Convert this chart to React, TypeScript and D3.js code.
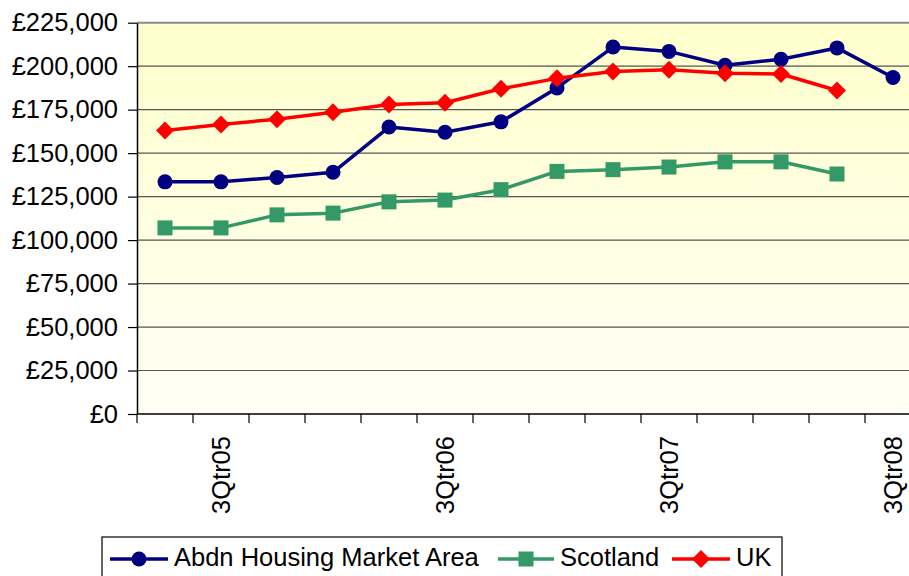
import React, { useEffect, useRef } from 'react';
import * as d3 from 'd3';

const quarters = [
  '2Qtr05', '3Qtr05', '4Qtr05', '1Qtr06', '2Qtr06', '3Qtr06', '4Qtr06',
  '1Qtr07', '2Qtr07', '3Qtr07', '4Qtr07', '1Qtr08', '2Qtr08', '3Qtr08',
];
const shownLabels = ['3Qtr05', '3Qtr06', '3Qtr07', '3Qtr08'];
const yTicks = [0, 25000, 50000, 75000, 100000, 125000, 150000, 175000, 200000, 225000];

const abdn = [133500, 133500, 136000, 139000, 165000, 162000, 168000, 187500, 211000, 208500, 200500, 204000, 210500, 193500];
const scotland = [107000, 107000, 114500, 115500, 122000, 123000, 129000, 139500, 140500, 142000, 145000, 145000, 138000];
const uk = [163000, 166500, 169500, 173500, 178000, 179000, 187000, 193000, 197000, 198000, 196000, 195500, 186000];

const seriesNames = ['Abdn Housing Market Area', 'Scotland', 'UK'];

const FONT = '"Liberation Sans", Arial, sans-serif';
const FS = 25.5;

const App = () => {
  const ref = useRef<SVGSVGElement>(null);

  useEffect(() => {
    const svg = d3.select(ref.current);
    svg.selectAll('*').remove();

    const left = 137;
    const top = 22.7;
    const bottom = 414;
    const right = left + 56 * quarters.length;

    const x = d3.scaleBand().domain(quarters).range([left, right]);
    const y = d3.scaleLinear().domain([0, 225000]).range([bottom, top]);

    const defs = svg.append('defs');
    const grad = defs.append('linearGradient')
      .attr('id', 'bg')
      .attr('x1', 0).attr('y1', 0).attr('x2', 0).attr('y2', 1);
    grad.append('stop').attr('offset', '0%').attr('stop-color', '#ffffcc');
    grad.append('stop').attr('offset', '100%').attr('stop-color', '#fffff6');

    svg.append('rect')
      .attr('x', left).attr('y', top)
      .attr('width', right - left).attr('height', bottom - top)
      .attr('fill', 'url(#bg)');

    // gridlines
    svg.append('g')
      .selectAll('line')
      .data(yTicks.filter(t => t > 0 && t < 225000))
      .enter().append('line')
      .attr('x1', left).attr('x2', right)
      .attr('y1', d => y(d)).attr('y2', d => y(d))
      .attr('stroke', '#555')
      .attr('stroke-width', 1.2);

    svg.append('line')
      .attr('x1', left).attr('x2', right)
      .attr('y1', top).attr('y2', top)
      .attr('stroke', '#8a8a8a')
      .attr('stroke-width', 2);

    // y axis
    const yAxis = d3.axisLeft(y)
      .tickValues(yTicks)
      .tickSize(9)
      .tickSizeOuter(0)
      .tickPadding(10)
      .tickFormat(d => '£' + d3.format(',')(d as number));
    const gy = svg.append('g')
      .attr('transform', `translate(${left},0)`)
      .call(yAxis);
    gy.select('.domain').attr('stroke', '#000').attr('stroke-width', 1.5);
    gy.selectAll('.tick line').attr('stroke', '#000').attr('stroke-width', 1.2);
    gy.selectAll('.tick text')
      .attr('font-family', FONT)
      .attr('font-size', FS)
      .attr('fill', '#000');

    // x axis
    const gx = svg.append('g');
    gx.append('line')
      .attr('x1', left).attr('x2', right)
      .attr('y1', bottom).attr('y2', bottom)
      .attr('stroke', '#000').attr('stroke-width', 1.5);
    gx.selectAll('line.tick')
      .data(quarters)
      .enter().append('line')
      .attr('class', 'tick')
      .attr('x1', d => x(d)!).attr('x2', d => x(d)!)
      .attr('y1', bottom).attr('y2', bottom + 9)
      .attr('stroke', '#000').attr('stroke-width', 1.2);
    gx.selectAll('text')
      .data(shownLabels)
      .enter().append('text')
      .attr('transform', d => `translate(${x(d)! + x.bandwidth() / 2},436) rotate(-90)`)
      .attr('text-anchor', 'end')
      .attr('dy', '0.35em')
      .attr('font-family', FONT)
      .attr('font-size', FS)
      .text(d => d);

    const cx = (i: number) => x(quarters[i])! + x.bandwidth() / 2;
    const line = d3.line<number>().x((_, i) => cx(i)).y(d => y(d));

    const series = [
      { name: seriesNames[0], data: abdn, color: '#000080', marker: 'circle' },
      { name: seriesNames[1], data: scotland, color: '#339966', marker: 'square' },
      { name: seriesNames[2], data: uk, color: '#ff0000', marker: 'diamond' },
    ];

    const drawMarker = (g: any, kind: string, px: number, py: number, color: string) => {
      if (kind === 'circle') {
        g.append('circle').attr('cx', px).attr('cy', py).attr('r', 7.5).attr('fill', color);
      } else if (kind === 'square') {
        g.append('rect').attr('x', px - 7.5).attr('y', py - 7.5)
          .attr('width', 15).attr('height', 15).attr('fill', color);
      } else {
        g.append('path')
          .attr('d', `M${px},${py - 9}L${px + 9},${py}L${px},${py + 9}L${px - 9},${py}Z`)
          .attr('fill', color);
      }
    };

    const plot = svg.append('g');
    series.forEach(s => {
      plot.append('path')
        .datum(s.data)
        .attr('d', line)
        .attr('fill', 'none')
        .attr('stroke', s.color)
        .attr('stroke-width', 3.5)
        .attr('stroke-linejoin', 'round');
      s.data.forEach((v, i) => drawMarker(plot, s.marker, cx(i), y(v), s.color));
    });

    // legend
    const lg = svg.append('g');
    lg.append('rect')
      .attr('x', 102).attr('y', 537)
      .attr('width', 680).attr('height', 60)
      .attr('fill', '#fff')
      .attr('stroke', '#000')
      .attr('stroke-width', 1.2);
    const legendPos = [
      { x1: 110, x2: 168, tx: 174 },
      { x1: 498, x2: 554, tx: 560 },
      { x1: 672, x2: 730, tx: 736 },
    ];
    series.forEach((s, i) => {
      const p = legendPos[i];
      const ly = 559;
      lg.append('line')
        .attr('x1', p.x1).attr('x2', p.x2)
        .attr('y1', ly).attr('y2', ly)
        .attr('stroke', s.color).attr('stroke-width', 3.5);
      drawMarker(lg, s.marker, (p.x1 + p.x2) / 2, ly, s.color);
      lg.append('text')
        .attr('x', p.tx).attr('y', ly - 2)
        .attr('dy', '0.35em')
        .attr('font-family', FONT)
        .attr('font-size', FS)
        .text(s.name);
    });
  }, []);

  return (
    <svg
      ref={ref}
      width={909}
      height={576}
      style={{ position: 'absolute', left: 0, top: 0, background: '#fff' }}
    />
  );
};

export default App;
